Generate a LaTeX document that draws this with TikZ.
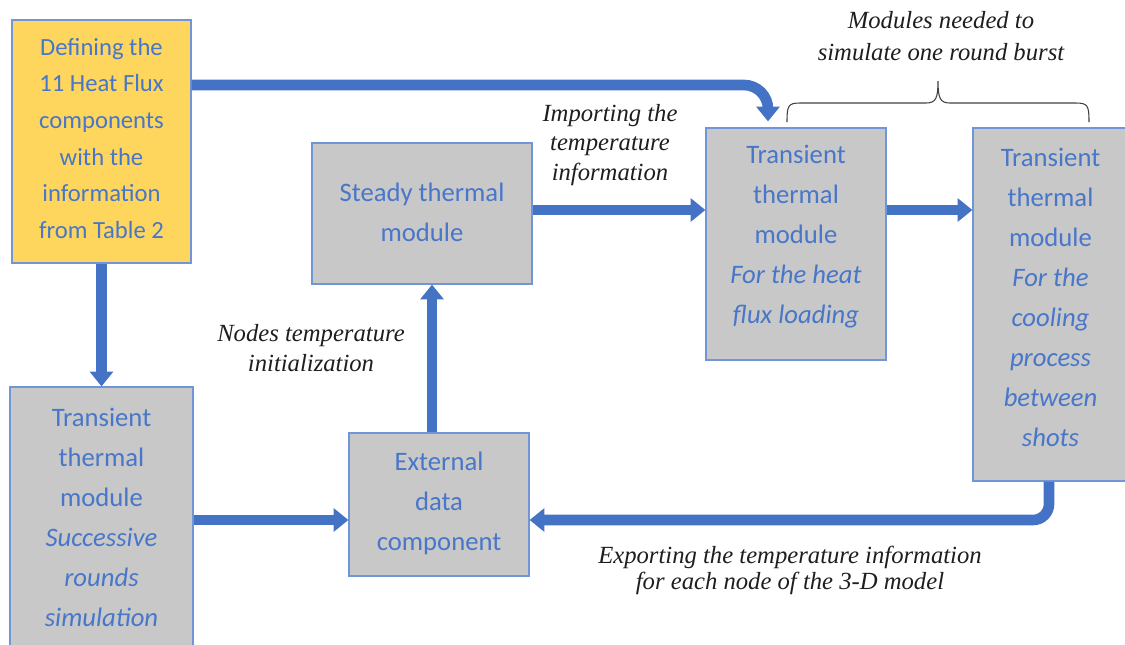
\documentclass[tikz,border=0pt]{standalone}
\usepackage{fontspec}
\setmainfont{Carlito}
\newfontfamily\labelfont{Liberation Serif}
\usetikzlibrary{arrows.meta}
\definecolor{txtblue}{RGB}{72,118,200}
\definecolor{arrblue}{RGB}{68,114,196}
\definecolor{bordblue}{RGB}{112,150,215}
\definecolor{boxgray}{RGB}{200,200,200}
\definecolor{boxyellow}{RGB}{254,214,94}
\definecolor{labelink}{RGB}{30,30,30}
\tikzset{
  box/.style={draw=bordblue, line width=0.9pt, fill=boxgray, rectangle, inner sep=0pt},
  boxtext/.style={text=txtblue, align=center, font=\fontsize{20}{30}\selectfont, inner sep=0pt},
  yeltext/.style={text=txtblue, align=center, font=\fontsize{18.5}{27.5}\selectfont, inner sep=0pt},
  lbl/.style={text=labelink, align=center, font=\labelfont\itshape\fontsize{18.5}{24}\selectfont, inner sep=0pt},
  arr/.style={draw=arrblue, line width=8pt, -{Triangle[width=17pt,length=11pt]}},
  bracepath/.style={draw=labelink!85, line width=0.8pt}
}
\begin{document}
\begin{tikzpicture}[x=0.75pt,y=-0.75pt]
\useasboundingbox (0,0) rectangle (1125,644);
\clip (0,0) rectangle (1125,644);

% helper coordinates
\coordinate (r85) at (0,85);
\coordinate (r210) at (0,210);
\coordinate (r520) at (0,520);
\coordinate (c432) at (432,0);
\coordinate (c768) at (768,0);
\coordinate (c1049) at (1049,0);

% boxes
\node[box, fill=boxyellow, minimum width=134.25pt, minimum height=182.25pt] (yel) at (101.5,141.5) {};
\node[yeltext] (yelt) at (101.5,138.5) {Defining the\\11 Heat Flux\\components\\with the\\information\\from Table 2};

\node[box, minimum width=165pt, minimum height=105.75pt] (st) at (422,213.5) {};
\node[boxtext] (stt) at (422,212.5) {Steady thermal\\module};

\node[box, minimum width=135pt, minimum height=174pt] (hf) at (796,244) {};
\node[boxtext] (hft) at (796,237) {Transient\\thermal\\module\\\textit{For the heat}\\\textit{flux loading}};

\node[box, minimum width=116.25pt, minimum height=264.75pt] (cool) at (1050.5,304.5) {};
\node[boxtext] (coolt) at (1050.5,297) {Transient\\thermal\\module\\\textit{For the}\\\textit{cooling}\\\textit{process}\\\textit{between}\\\textit{shots}};

\node[box, minimum width=137.25pt, minimum height=204.75pt] (lt) at (101.5,523.5) {};
\node[boxtext] (ltt) at (101.5,517) {Transient\\thermal\\module\\\textit{Successive}\\\textit{rounds}\\\textit{simulation}};

\node[box, minimum width=135pt, minimum height=107.25pt] (ext) at (439,504.5) {};
\node[boxtext] (extt) at (439,503) {External\\data\\component};

% labels
\node[lbl] (lmod) at (941,36) {Modules needed to\\simulate one round burst};
\node[lbl, font=\labelfont\itshape\fontsize{18.5}{22}\selectfont] (limp) at (610,145) {Importing the\\temperature\\information};
\node[lbl, font=\labelfont\itshape\fontsize{18.5}{23}\selectfont] (lnod) at (311,348) {Nodes temperature\\initialization};
\node[lbl, font=\labelfont\itshape\fontsize{18.5}{19.5}\selectfont] (lexp) at (790,570) {Exporting the temperature information\\for each node of the 3-D model};

% brace
\draw[bracepath] (787,122) .. controls (787,106) and (788,103) .. (800,103) -- (926,103)
  .. controls (936,103) and (938,98) .. (938,81)
  .. controls (938,98) and (940,103) .. (950,103) -- (1076,103)
  .. controls (1088,103) and (1089,106) .. (1089,122);

% connectors
\draw[arr, rounded corners=18pt, shorten >=4.5pt] (yel.east |- r85) -| (hf.north -| c768);
\draw[arr] (yel.south) -- (lt.north);
\draw[arr] (st.east |- r210) -- (hf.west |- r210);
\draw[arr] (hf.east |- r210) -- (cool.west |- r210);
\draw[arr] (lt.east |- r520) -- (ext.west |- r520);
\draw[arr] (ext.north -| c432) -- (st.south -| c432);
\draw[arr, rounded corners=12pt] (cool.south -| c1049) |- (ext.east |- r520);
\end{tikzpicture}
\end{document}
